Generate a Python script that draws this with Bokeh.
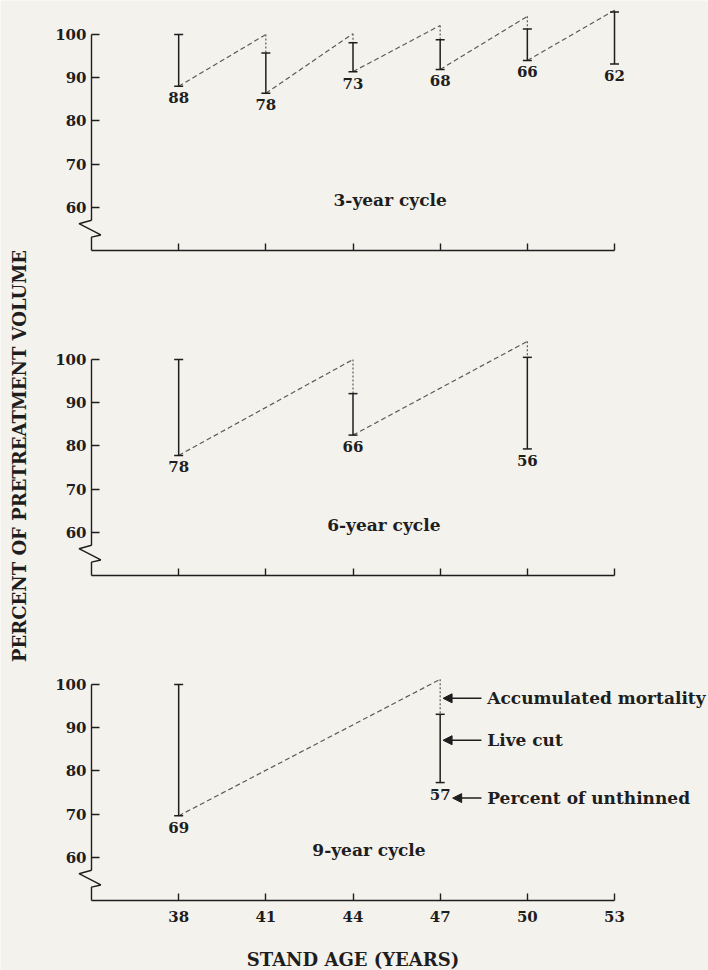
import math
from bokeh.plotting import figure
from bokeh.models import Range1d, LinearAxis, FixedTicker, Arrow, NormalHead
from bokeh.core.properties import value
from bokeh.embed import file_html
from bokeh.resources import INLINE

# ---------------- data ----------------
x_ticks = [38, 41, 44, 47, 50, 53]
y_ticks = [60, 70, 80, 90, 100]

# 3-year cycle
c3_age = [38, 41, 44, 47, 50, 53]
c3_peak = [100, 100, 100.2, 102.1, 104.2, 105.6]   # volume before thinning (incl. mortality)
c3_live = [100, 95.7, 98.1, 98.8, 101.3, 105.2]    # top of live cut
c3_resid = [88, 86.4, 91.4, 91.9, 94.0, 93.2]      # residual after thinning
c3_label = ["88", "78", "73", "68", "66", "62"]    # percent of unthinned

# 6-year cycle
c6_age = [38, 44, 50]
c6_peak = [100, 100, 104.2]
c6_live = [100, 92.1, 100.5]
c6_resid = [77.8, 82.5, 79.3]
c6_label = ["78", "66", "56"]

# 9-year cycle
c9_age = [38, 47]
c9_peak = [100, 101.2]
c9_live = [100, 93.1]
c9_resid = [69.6, 77.3]
c9_label = ["69", "57"]

cycle_names = ["3-year cycle", "6-year cycle", "9-year cycle"]
key_text = ["Accumulated mortality", "Live cut", "Percent of unthinned"]
key_y = [96.8, 87.1, 73.7]
key_tip = [47.1, 47.1, 47.43]

# ---------------- layout / style ----------------
W, H = 708, 970
PX_X = 29.056          # pixels per year
X0_PX = 91             # figure x of age 35 (axis origin)
PX_Y = 4.32            # pixels per percent
BASES = [250, 575, 900]  # figure y of the 50 % baseline of each panel
BG = "#f4f2ed"
INK = "#1e1e1e"
DASH = "#5a5a5a"
FONT_NAME = "DejaVu Serif"
FONT = value(FONT_NAME)

x_start = 35 - X0_PX / PX_X
x_range = Range1d(x_start, x_start + W / PX_X)


def panel_range(base):
    start = 50 - (H - base) / PX_Y
    return Range1d(start, start + H / PX_Y)


p = figure(width=W, height=H, x_range=x_range, y_range=panel_range(BASES[2]),
           output_backend="svg", toolbar_location=None,
           x_axis_type=None, y_axis_type=None, min_border=0)
p.extra_y_ranges = {"p1": panel_range(BASES[0]), "p2": panel_range(BASES[1])}
p.background_fill_color = BG
p.border_fill_color = BG
p.outline_line_color = None

panels = [
    ("p1", c3_age, c3_peak, c3_live, c3_resid, c3_label),
    ("p2", c6_age, c6_peak, c6_live, c6_resid, c6_label),
    ("default", c9_age, c9_peak, c9_live, c9_resid, c9_label),
]
cycle_pos = [(43.33, 61.6), (43.11, 61.6), (42.6, 61.8)]

# axis break (zig-zag) on the y axis
zig_x = [35, 34.57, 35.32, 35, 35]
zig_y = [57, 56.2, 53.6, 53.1, 50]

for i, (rn, age, peak, live, resid, lab) in enumerate(panels):
    last = (i == 2)
    yax = LinearAxis(y_range_name=rn, fixed_location=35, bounds=(57, 100),
                     ticker=FixedTicker(ticks=y_ticks))
    yax.axis_line_color = INK
    yax.axis_line_width = 1.4
    yax.major_tick_in = 8
    yax.major_tick_out = 0
    yax.major_tick_line_color = INK
    yax.major_tick_line_width = 1.4
    yax.minor_tick_line_color = None
    yax.major_label_standoff = 5
    yax.major_label_text_font = FONT_NAME
    yax.major_label_text_font_style = "bold"
    yax.major_label_text_font_size = "15px"
    yax.major_label_text_color = INK
    p.add_layout(yax, "left")

    xax = LinearAxis(y_range_name=rn, fixed_location=50, bounds=(35, 53),
                     ticker=FixedTicker(ticks=x_ticks))
    xax.axis_line_color = INK
    xax.axis_line_width = 1.4
    xax.major_tick_in = 7
    xax.major_tick_out = 0
    xax.major_tick_line_color = INK
    xax.major_tick_line_width = 1.4
    xax.minor_tick_line_color = None
    xax.major_label_standoff = 10
    xax.major_label_text_font = FONT_NAME
    xax.major_label_text_font_style = "bold"
    xax.major_label_text_font_size = "15px"
    xax.major_label_text_color = INK if last else None
    if last:
        xax.axis_label = "STAND AGE (YEARS)"
        xax.axis_label_text_font = FONT_NAME
        xax.axis_label_text_font_style = "bold"
        xax.axis_label_text_font_size = "18px"
        xax.axis_label_text_color = INK
        xax.axis_label_standoff = 24
    p.add_layout(xax, "below")

    kw = {} if rn == "default" else {"y_range_name": rn}
    p.line(zig_x, zig_y, line_color=INK, line_width=1.4, **kw)

    # growth (dashed) from residual to next peak
    p.segment(x0=age[:-1], y0=resid[:-1], x1=age[1:], y1=peak[1:],
              line_color=DASH, line_width=1.2, line_dash="5 3", **kw)
    # accumulated mortality (dotted)
    p.segment(x0=age, y0=peak, x1=age, y1=live,
              line_color=DASH, line_width=1.2, line_dash="2 2", **kw)
    # live cut (solid bar with caps)
    p.segment(x0=age, y0=live, x1=age, y1=resid, line_color=INK, line_width=1.5, **kw)
    p.dash(x=age, y=live, size=9, line_color=INK, line_width=1.5, **kw)
    p.dash(x=age, y=resid, size=9, line_color=INK, line_width=1.5, **kw)
    # percent of unthinned
    p.text(x=age, y=resid, text=lab, text_align="center", text_baseline="top",
           y_offset=6, text_font=FONT, text_font_style="bold",
           text_font_size="15px", text_color=INK, **kw)
    # cycle name
    cx, cy = cycle_pos[i]
    p.text(x=[cx], y=[cy], text=[cycle_names[i]], text_align="left",
           text_baseline="middle", text_font=FONT, text_font_style="bold",
           text_font_size="17px", text_color=INK, **kw)

# key (9-year panel)
for t, yv, tip in zip(key_text, key_y, key_tip):
    p.add_layout(Arrow(end=NormalHead(size=9, fill_color=INK, line_color=INK),
                       x_start=48.42, y_start=yv, x_end=tip, y_end=yv,
                       line_color=INK, line_width=1.5))
p.text(x=[48.62] * len(key_text), y=key_y, text=key_text, text_align="left",
       text_baseline="middle", text_font=FONT, text_font_style="bold",
       text_font_size="17px", text_color=INK)

# shared y-axis title
p.text(x=[32.52], y=[77.66], text=["PERCENT OF PRETREATMENT VOLUME"], angle=math.pi / 2,
       text_align="center", text_baseline="middle", text_font=FONT,
       text_font_style="bold", text_font_size="18px", text_color=INK, y_range_name="p2")

open("out.html", "w").write(file_html(p, INLINE))
